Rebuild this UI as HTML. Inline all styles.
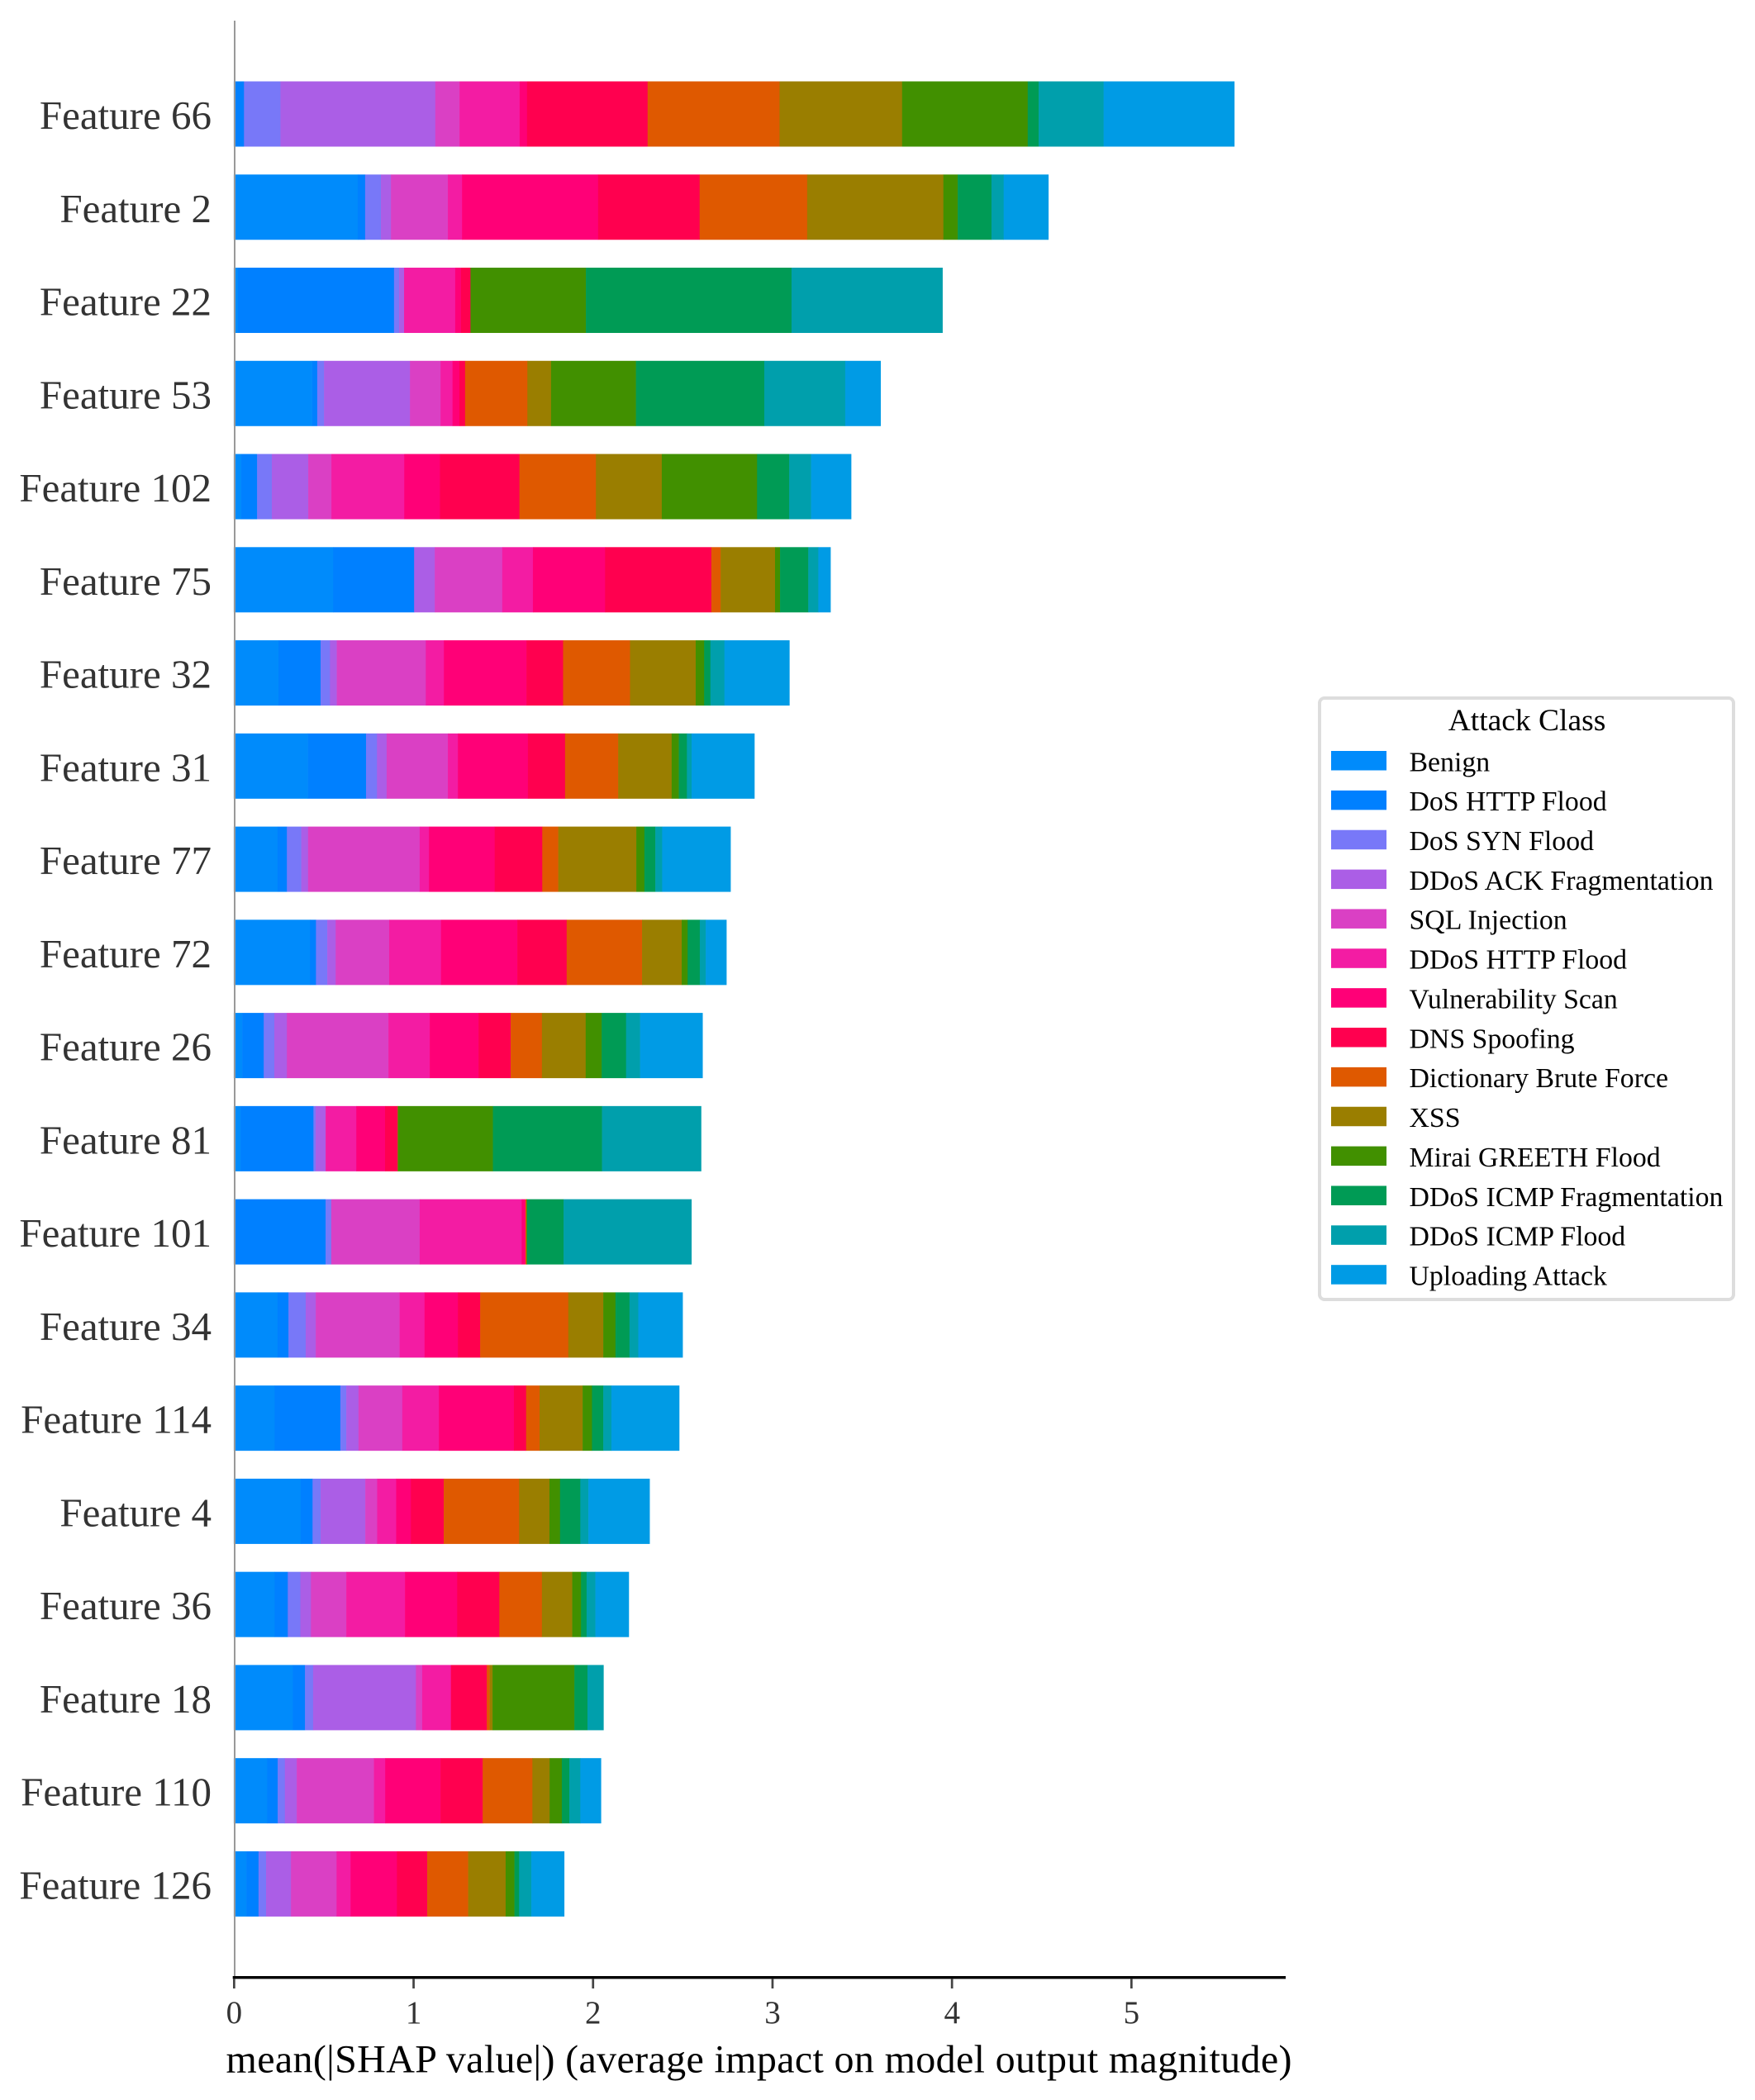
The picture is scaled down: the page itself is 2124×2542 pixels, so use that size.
<!DOCTYPE html>
<html lang="en">
<head>
<meta charset="utf-8">
<title>SHAP feature importance by attack class</title>
<style>
  html, body { margin: 0; padding: 0; background: #fff; }
  svg { display: block; font-family: "Liberation Serif", "Times New Roman", serif; }
</style>
</head>
<body>
<svg id="chart" xmlns="http://www.w3.org/2000/svg" width="2124" height="2542" viewBox="0 0 2124 2542">
  <rect x="0" y="0" width="2124" height="2542" fill="#ffffff"/>
  <g id="bars"></g>
  <rect x="283" y="25" width="2" height="2369" fill="#999999"/>
  <rect x="281.7" y="2392" width="1274.3" height="3.4" fill="#000000"/>
  <g id="xticks"></g>
  <g id="ylabels"></g>
  <text x="273.5" y="2508.3" font-size="48" fill="#000000" textLength="1290" lengthAdjust="spacing">mean(|SHAP value|) (average impact on model output magnitude)</text>
  <g id="legend">
    <rect x="1597" y="845" width="501" height="728" rx="6" ry="6" fill="#ffffff" stroke="#dddddd" stroke-width="4"/>
    <text x="1848" y="884" font-size="37.5" text-anchor="middle" fill="#000000">Attack Class</text>
  </g>
</svg>
<script>
// Data: feature names, in plotted order (top to bottom)
const categories = ["Feature 66","Feature 2","Feature 22","Feature 53","Feature 102","Feature 75","Feature 32","Feature 31","Feature 77","Feature 72","Feature 26","Feature 81","Feature 101","Feature 34","Feature 114","Feature 4","Feature 36","Feature 18","Feature 110","Feature 126"];
// Attack classes, in stacking order
const classNames = ["Benign","DoS HTTP Flood","DoS SYN Flood","DDoS ACK Fragmentation","SQL Injection","DDoS HTTP Flood","Vulnerability Scan","DNS Spoofing","Dictionary Brute Force","XSS","Mirai GREETH Flood","DDoS ICMP Fragmentation","DDoS ICMP Flood","Uploading Attack"];
const xTickLabels = [0,1,2,3,4,5];
// mean(|SHAP value|) for each feature, one entry per attack class
const feature66  = [0,.057,.203,.863,.135,.335,.041,.672,.735,.683,.700,.061,.362,.728];
const feature2   = [.691,.041,.088,.056,.317,.079,.758,.566,.599,.759,.080,.188,.068,.249];
const feature22  = [.023,.870,.028,.028,0,.285,.032,.053,0,0,.643,1.146,.841,0];
const feature53  = [.436,.029,.038,.479,.170,.067,.038,.032,.347,.132,.473,.715,.451,.197];
const feature102 = [.042,.088,.082,.203,.129,.406,.199,.443,.426,.367,.531,.179,.122,.223];
const feature75  = [.554,.451,0,.115,.376,.171,.402,.592,.052,.303,.028,.157,.056,.068];
const feature32  = [.249,.235,.052,.038,.496,.101,.460,.204,.373,.366,.047,.035,.078,.362];
const feature31  = [.413,.324,.061,.054,.341,.056,.390,.207,.296,.298,.040,.045,.026,.350];
const feature77  = [.244,.052,.080,.038,.622,.052,.366,.265,.089,.435,.045,.061,.038,.381];
const feature72  = [.425,.033,.063,.047,.298,.289,.425,.275,.420,.221,.033,.068,.033,.115];
const feature26  = [.047,.120,.059,.070,.566,.230,.272,.179,.174,.244,.089,.136,.078,.348];
const feature81  = [.038,.406,.012,.056,0,.171,.160,.070,0,.002,.529,.608,.552,0];
const feature101 = [0,.512,.031,0,.493,.568,.021,0,.005,.002,.002,.204,.712,0];
const feature34  = [.244,.061,.096,.056,.467,.139,.186,.124,.491,.195,.068,.078,.049,.247];
const feature114 = [.228,.366,.033,.068,.244,.204,.418,.068,.075,.240,.052,.063,.045,.378];
const feature4   = [.373,.066,.045,.249,.066,.106,.082,.183,.420,.169,.059,.113,.045,.341];
const feature36  = [.228,.073,.070,.059,.197,.327,.291,.235,.237,.169,.049,.031,.049,.186];
const feature18  = [.329,.068,.045,.573,.035,.160,0,.200,.016,.016,.456,.073,.089,0];
const feature110 = [.186,.059,.040,.066,.430,.063,.308,.235,.277,.096,.068,.042,.061,.115];
const feature126 = [.070,.068,.042,.139,.254,.078,.258,.169,.228,.209,.049,.026,.068,.183];
const seriesValues = [feature66,feature2,feature22,feature53,feature102,feature75,feature32,feature31,feature77,feature72,feature26,feature81,feature101,feature34,feature114,feature4,feature36,feature18,feature110,feature126];

// Class colours
const classColors = ["#008bfb","#0080ff","#7878f8","#ab5ee6","#da40c4","#f31ca3","#ff0077","#ff004f","#df5900","#9a7e00","#419000","#009b55","#009fac","#009be5"];

// Axis functions
const xScale = function (v) { return 282.9 + v * 217.2; };
const yScale = function (i) { return 138 + i * 112.76; };
const barHeight = 79;

const NS = "http://www.w3.org/2000/svg";
const make = function (tag, parent, attrs) {
  const el = document.createElementNS(NS, tag);
  Object.keys(attrs).forEach(function (k) { el.setAttribute(k, attrs[k]); });
  parent.appendChild(el);
  return el;
};
const slug = function (s) { return s.toLowerCase().replace(/[^a-z0-9]+/g, "-"); };

const barsGroup = document.getElementById("bars");
const ylabelsGroup = document.getElementById("ylabels");
categories.forEach(function (name, i) {
  const row = make("g", barsGroup, {});
  
  
  let cum = 0;
  seriesValues[i].forEach(function (v, c) {
    if (v > 0) {
      const x0 = xScale(cum);
      const x1 = xScale(cum + v);
      const seg = make("rect", row, { x: x0, y: yScale(i) - barHeight / 2, width: x1 - x0 + 0.3, height: barHeight, fill: classColors[c] });
      
      
    }
    cum += v;
  });
  const label = make("text", ylabelsGroup, { x: 256, y: yScale(i) + 18, "font-size": 49, "text-anchor": "end", fill: "#333333" });
  
  
  label.textContent = name;
});

const xticksGroup = document.getElementById("xticks");
xTickLabels.forEach(function (t) {
  const px = xScale(t);
  const tick = make("rect", xticksGroup, { x: px - 0.9, y: 2395, width: 2.7, height: 12, fill: "#444444" });
  
  
  const lab = make("text", xticksGroup, { x: px + 0.5, y: 2449, "font-size": 39, "text-anchor": "middle", fill: "#333333" });
  
  
  lab.textContent = String(t);
});

const legendGroup = document.getElementById("legend");
classNames.forEach(function (name, c) {
  const top = 909 + c * 47.86;
  const entry = make("g", legendGroup, {});
  
  
  const swatch = make("rect", entry, { x: 1611, y: top, width: 67, height: 23.5, fill: classColors[c] });
  
  
  const text = make("text", entry, { x: 1705.5, y: top + 24.3, "font-size": 33.8, fill: "#000000" });
  
  
  text.textContent = name;
});
</script>
</body>
</html>
